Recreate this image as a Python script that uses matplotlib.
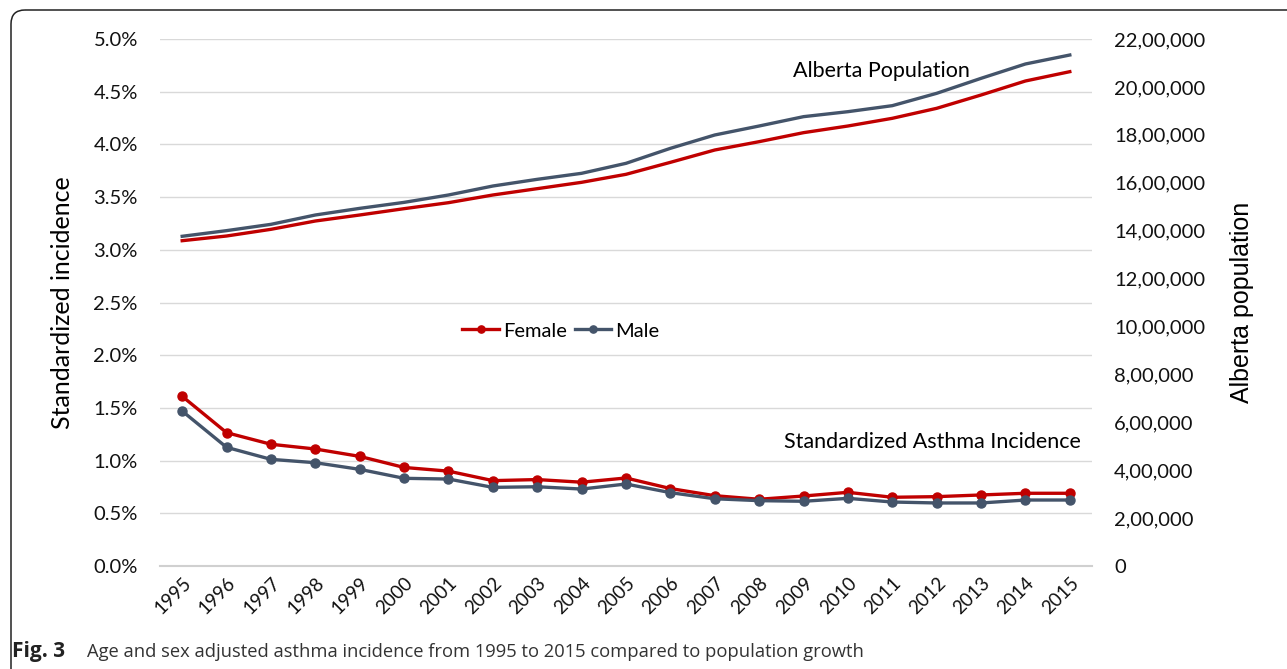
import numpy as np
import matplotlib
matplotlib.use("Agg")
import matplotlib.pyplot as plt
from matplotlib.patches import FancyBboxPatch
from matplotlib.ticker import FuncFormatter, MultipleLocator

years = [str(y) for y in range(1995, 2016)]

# standardized incidence, %
female_inc = [1.61, 1.265, 1.155, 1.11, 1.04, 0.935, 0.90, 0.81, 0.82, 0.795, 0.835,
              0.735, 0.667, 0.633, 0.664, 0.699, 0.652, 0.658, 0.674, 0.69, 0.69]
male_inc = [1.47, 1.126, 1.012, 0.98, 0.917, 0.832, 0.825, 0.746, 0.752, 0.73, 0.778,
            0.696, 0.638, 0.62, 0.614, 0.642, 0.607, 0.598, 0.598, 0.626, 0.626]

# population
female_pop = [1358000, 1377600, 1405500, 1440200, 1465300, 1491700, 1516700, 1548800,
              1575200, 1601700, 1635100, 1685100, 1736600, 1771400, 1809000, 1836800,
              1868900, 1910600, 1966200, 2024700, 2063600]
male_pop = [1376400, 1400000, 1426300, 1465300, 1493000, 1518000, 1548800, 1586300,
            1614200, 1639300, 1681000, 1743600, 1799300, 1836800, 1875800, 1896600,
            1921700, 1973200, 2035800, 2095700, 2133200]

RED = '#C00000'
BLUE = '#44546A'
FONT = ['Lato', 'DejaVu Sans']


def indian_fmt(v, pos):
    n = int(round(v))
    if n == 0:
        return '0'
    s = str(n)
    last3 = s[-3:]
    rest = s[:-3]
    parts = []
    while len(rest) > 2:
        parts.insert(0, rest[-2:])
        rest = rest[:-2]
    if rest:
        parts.insert(0, rest)
    return ','.join(parts + [last3])


fig = plt.figure(figsize=(12.87, 6.69), dpi=100)

# border frame
bg = fig.add_axes([0, 0, 1, 1], zorder=-1)
bg.set_xlim(0, 1287)
bg.set_ylim(669, 0)
bg.axis('off')
bg.add_patch(FancyBboxPatch((11, 10), 1400, 700, boxstyle='round,pad=0,rounding_size=14',
                            fill=False, ec='#222222', lw=1.1))

ax = fig.add_axes([160 / 1287, 1 - 566 / 669, 932 / 1287, 527 / 669])
ax2 = ax.twinx()
x = np.arange(len(years))

ax.plot(x, female_inc, color=RED, lw=2.4, marker='o', ms=6.5, label='Female', zorder=3)
ax.plot(x, male_inc, color=BLUE, lw=2.4, marker='o', ms=6.5, label='Male', zorder=3)
ax2.plot(x, female_pop, color=RED, lw=2.4)
ax2.plot(x, male_pop, color=BLUE, lw=2.4)

ax.set_xlim(-0.5, len(years) - 0.5)
ax.set_ylim(0, 5.0)
ax2.set_ylim(0, 2200000)
ax.yaxis.set_major_locator(MultipleLocator(0.5))
ax2.yaxis.set_major_locator(MultipleLocator(200000))
ax.yaxis.set_major_formatter(FuncFormatter(lambda v, p: f'{v:.1f}%'))
ax2.yaxis.set_major_formatter(FuncFormatter(indian_fmt))

ax.grid(axis='y', color='#d9d9d9', lw=1)
ax.set_axisbelow(True)
for a in (ax, ax2):
    for s in a.spines.values():
        s.set_visible(False)
ax.spines['bottom'].set_visible(True)
ax.spines['bottom'].set_color('#d0d0d0')
ax.spines['bottom'].set_linewidth(1.5)

ax.tick_params(axis='y', length=0, pad=16, labelsize=14.5)
ax2.tick_params(axis='y', length=0, pad=16, labelsize=14.5)
ax.tick_params(axis='x', length=0, pad=6, labelsize=13.5)
ax.set_xticks(x)
ax.set_xticklabels(years, rotation=45, ha='right', rotation_mode='anchor')
for lab in ax.get_xticklabels() + ax.get_yticklabels() + ax2.get_yticklabels():
    lab.set_family(FONT)
    lab.set_color('#111111')

ax.set_ylabel('Standardized incidence', fontsize=18, family=FONT, labelpad=14)
ax2.set_ylabel('Alberta population', fontsize=18, family=['Liberation Sans'], labelpad=18)

ax.text(0.774, 0.94, 'Alberta Population', transform=ax.transAxes, fontsize=15.5,
        family=FONT, ha='center', va='center')
ax.text(0.988, 0.235, 'Standardized Asthma Incidence', transform=ax.transAxes, fontsize=15.5,
        family=FONT, ha='right', va='center')

leg = ax.legend(loc='center', bbox_to_anchor=(0.43, 0.446), ncol=2, frameon=False,
                prop={'family': FONT, 'size': 14.5}, handlelength=1.8, handletextpad=0.2,
                columnspacing=0.4, markerscale=0.8)

fig.text(12 / 1287, 1 - 652 / 669, 'Fig. 3', fontsize=15, weight='bold',
         family=['Open Sans', 'DejaVu Sans'], va='center', color='#222222')
fig.text(87 / 1287, 1 - 652 / 669,
         'Age and sex adjusted asthma incidence from 1995 to 2015 compared to population growth',
         fontsize=13.2, family=['Open Sans', 'DejaVu Sans'], va='center', color='#333333')

fig.savefig('out.png', dpi=100)
